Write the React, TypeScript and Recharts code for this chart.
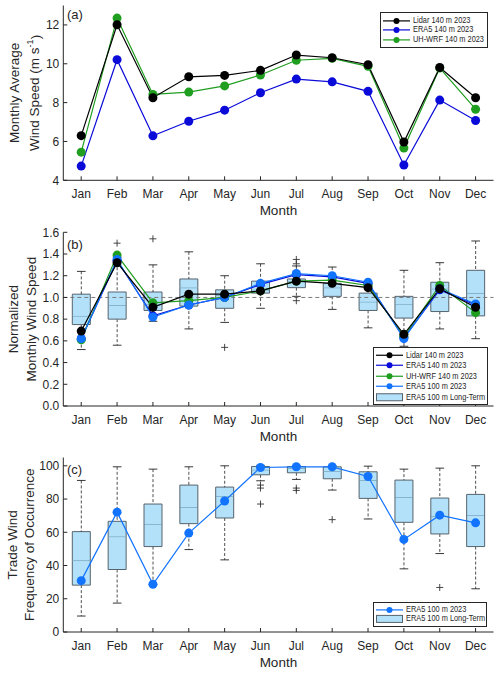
import React from "react"
import { ComposedChart, Line, Bar, XAxis, YAxis, ReferenceLine } from "recharts"

const months = ["Jan", "Feb", "Mar", "Apr", "May", "Jun", "Jul", "Aug", "Sep", "Oct", "Nov", "Dec"]

// (a) monthly average wind speed, m/s
const lidarA = [6.3, 12.01, 8.25, 9.33, 9.4, 9.66, 10.45, 10.31, 9.95, 5.97, 9.81, 8.25]
const era5A = [4.73, 10.21, 6.29, 7.04, 7.61, 8.51, 9.21, 9.07, 8.58, 4.79, 8.13, 7.08]
const wrfA = [5.45, 12.35, 8.42, 8.54, 8.86, 9.42, 10.18, 10.28, 9.87, 5.66, 9.78, 7.66]

// (b) normalized monthly wind speed
const lidarB = [0.69, 1.32, 0.91, 1.03, 1.03, 1.06, 1.15, 1.13, 1.09, 0.66, 1.08, 0.91]
const era5B140 = [0.62, 1.34, 0.83, 0.93, 1.0, 1.12, 1.21, 1.19, 1.13, 0.63, 1.07, 0.93]
const wrfB = [0.61, 1.39, 0.95, 0.97, 1.0, 1.06, 1.15, 1.16, 1.11, 0.64, 1.11, 0.86]
const era5B100 = [0.62, 1.35, 0.82, 0.93, 1.0, 1.13, 1.22, 1.2, 1.14, 0.62, 1.08, 0.94]

const bLow = [0.52, 0.56, 0.78, 0.71, 0.77, 0.9, 1.01, 0.89, 0.72, 0.55, 0.71, 0.62]
const bQ1 = [0.75, 0.8, 0.88, 0.92, 0.9, 1.04, 1.09, 1.01, 0.88, 0.81, 0.87, 0.83]
const bMed = [0.83, 0.93, 0.94, 1.09, 1.02, 1.07, 1.15, 1.09, 0.96, 0.94, 1.08, 1.04]
const bQ3 = [1.03, 1.05, 1.05, 1.17, 1.07, 1.15, 1.17, 1.13, 1.04, 1.01, 1.14, 1.25]
const bHigh = [1.24, 1.37, 1.3, 1.42, 1.2, 1.31, 1.29, 1.28, 1.12, 1.25, 1.32, 1.52]
const bOut = [[], [1.5], [1.54], [], [0.54], [], [1.31, 1.35, 0.97], [], [], [], [], []]

// (c) trade wind frequency of occurrence, %
const era5C = [30.9, 72.1, 28.7, 59.5, 78.8, 99.0, 99.4, 99.4, 93.6, 55.7, 70.3, 65.7]
const cLow = [9.6, 17.4, 28.5, 49.6, 43.4, 91, 91.8, 85.4, 68, 38, 47.2, 26]
const cQ1 = [28.2, 37.6, 51.4, 65.2, 68.6, 94.6, 95.8, 92.2, 80.4, 66, 59, 51.4]
const cMed = [43, 57.4, 65, 75.2, 81.8, 97.6, 98.6, 96.6, 91.4, 81.2, 69.8, 70.4]
const cQ3 = [60.4, 66.6, 77, 88.4, 87.2, 99.6, 99.6, 99.4, 96.4, 91.4, 80.6, 82.8]
const cHigh = [91.2, 99.4, 98, 99.4, 100, 100, 100, 100, 99.8, 98, 98.6, 100]
const cOut = [[], [], [], [], [], [88.4, 86.6, 77], [86.6, 85.2], [67.6], [], [], [26.8], []]

const ticksA = [4, 6, 8, 10, 12]
const ticksB = [0, 0.2, 0.4, 0.6, 0.8, 1.0, 1.2, 1.4, 1.6]
const ticksC = [0, 20, 40, 60, 80, 100]

const FONT = "'Liberation Sans', Arial, Helvetica, sans-serif"
const AXIS = "#262626"
const C_LIDAR = "#000000"
const C_ERA140 = "#0b0bd9"
const C_WRF = "#1f9e1f"
const C_ERA100 = "#1273ff"
const BOX_FILL = "#b4e1fa"
const BOX_EDGE = "#56636c"
const MED = "#5d8aa5"

function boxRows(low: number[], q1: number[], med: number[], q3: number[], high: number[], out: number[][]) {
  return months.map((month, i) => ({
    month,
    base: low[i],
    lowW: q1[i] - low[i],
    boxLo: med[i] - q1[i],
    boxHi: q3[i] - med[i],
    highW: high[i] - q3[i],
    o1: out[i][0] ?? null,
    o2: out[i][1] ?? null,
    o3: out[i][2] ?? null,
  }))
}

const dataA = months.map((month, i) => ({ month, lidar: lidarA[i], era140: era5A[i], wrf: wrfA[i] }))
const dataB = boxRows(bLow, bQ1, bMed, bQ3, bHigh, bOut).map((r, i) => ({
  ...r,
  lidar: lidarB[i],
  era140: era5B140[i],
  wrf: wrfB[i],
  era100: era5B100[i],
}))
const dataC = boxRows(cLow, cQ1, cMed, cQ3, cHigh, cOut).map((r, i) => ({ ...r, era100: era5C[i] }))

const LowWhisker = (p: any) => {
  const cx = p.x + p.width / 2
  const cap = p.width * 0.24
  return (
    <g>
      <line x1={cx} x2={cx} y1={p.y} y2={p.y + p.height} stroke="#222" strokeWidth={0.8} strokeDasharray="3 2" />
      <line x1={cx - cap} x2={cx + cap} y1={p.y + p.height} y2={p.y + p.height} stroke="#222" strokeWidth={0.9} />
    </g>
  )
}

const HighWhisker = (p: any) => {
  const cx = p.x + p.width / 2
  const cap = p.width * 0.24
  return (
    <g>
      <line x1={cx} x2={cx} y1={p.y} y2={p.y + p.height} stroke="#222" strokeWidth={0.8} strokeDasharray="3 2" />
      <line x1={cx - cap} x2={cx + cap} y1={p.y} y2={p.y} stroke="#222" strokeWidth={0.9} />
    </g>
  )
}

const BoxLower = (p: any) => {
  const { x, y, width, height } = p
  return (
    <g>
      <rect x={x} y={y} width={width} height={height} fill={BOX_FILL} />
      <path d={`M${x},${y} V${y + height} H${x + width} V${y}`} fill="none" stroke={BOX_EDGE} strokeWidth={1} />
      <line x1={x} x2={x + width} y1={y} y2={y} stroke={MED} strokeWidth={1} />
    </g>
  )
}

const BoxUpper = (p: any) => {
  const { x, y, width, height } = p
  return (
    <g>
      <rect x={x} y={y} width={width} height={height} fill={BOX_FILL} />
      <path d={`M${x},${y + height} V${y} H${x + width} V${y + height}`} fill="none" stroke={BOX_EDGE} strokeWidth={1} />
    </g>
  )
}

const Plus = (p: any) => {
  const { cx, cy } = p
  if (typeof cy !== "number" || isNaN(cy)) return <g key={p.key} />
  return (
    <path key={p.key} d={`M${cx - 3.5},${cy} H${cx + 3.5} M${cx},${cy - 3.5} V${cy + 3.5}`} stroke="#333" strokeWidth={0.9} fill="none" />
  )
}

const monthLabel = (props: any) => {
  const vb = props.viewBox
  return (
    <text x={vb.x + vb.width / 2} y={vb.y + 35} textAnchor="middle" fill={AXIS} fontSize={13.5} fontFamily={FONT}>
      Month
    </text>
  )
}

function yLabel(lines: React.ReactNode[], xs: number[]) {
  return (props: any) => {
    const vb = props.viewBox
    const cy = vb.y + vb.height / 2
    return (
      <g>
        {lines.map((l, i) => (
          <text
            key={i}
            x={xs[i]}
            y={cy}
            transform={`rotate(-90 ${xs[i]} ${cy})`}
            textAnchor="middle"
            dominantBaseline="central"
            fill={AXIS}
            fontSize={13.5}
            fontFamily={FONT}
          >
            {l}
          </text>
        ))}
      </g>
    )
  }
}

const tickStyle = { fill: AXIS, fontSize: 12, fontFamily: FONT }

function axes(domain: number[], ticks: number[], fmt: (v: number) => string, xHeight: number, label: any, pad?: number) {
  const padding = pad ? { left: pad, right: pad } : undefined
  return [
    <XAxis key="xb" dataKey="month" interval={0} padding={padding} tickSize={-4} tickMargin={13} tick={tickStyle} stroke={AXIS} height={xHeight} label={monthLabel} />,
    <XAxis key="xt" xAxisId="top" orientation="top" dataKey="month" interval={0} padding={padding} tickSize={-4} tickFormatter={() => ""} height={0} stroke={AXIS} />,
    <YAxis key="yl" domain={domain} ticks={ticks} tickFormatter={fmt} width={63.3} tickSize={-4} tickMargin={8} tick={tickStyle} stroke={AXIS} interval={0} label={label} />,
    <YAxis key="yr" yAxisId="r" orientation="right" domain={domain} ticks={ticks} tickFormatter={() => ""} width={0} tickSize={-4} stroke={AXIS} interval={0} />,
  ]
}

function boxBars() {
  return [
    <Bar key="b0" dataKey="base" stackId="box" fill="none" barSize={18} isAnimationActive={false} />,
    <Bar key="b1" dataKey="lowW" stackId="box" shape={LowWhisker} barSize={18} isAnimationActive={false} />,
    <Bar key="b2" dataKey="boxLo" stackId="box" shape={BoxLower} barSize={18} isAnimationActive={false} />,
    <Bar key="b3" dataKey="boxHi" stackId="box" shape={BoxUpper} barSize={18} isAnimationActive={false} />,
    <Bar key="b4" dataKey="highW" stackId="box" shape={HighWhisker} barSize={18} isAnimationActive={false} />,
    <Line key="o1" dataKey="o1" stroke="none" dot={Plus} activeDot={false} isAnimationActive={false} />,
    <Line key="o2" dataKey="o2" stroke="none" dot={Plus} activeDot={false} isAnimationActive={false} />,
    <Line key="o3" dataKey="o3" stroke="none" dot={Plus} activeDot={false} isAnimationActive={false} />,
  ]
}

function series(key: string, color: string) {
  return (
    <Line
      key={key}
      dataKey={key}
      stroke={color}
      strokeWidth={1.2}
      dot={{ r: 4.5, fill: color, stroke: color, strokeWidth: 0 }}
      activeDot={false}
      isAnimationActive={false}
    />
  )
}

type Item = { label: string; color?: string; box?: boolean }

function LegendBox({ left, top, width, rowH, pad, items }: { left: number; top: number; width: number; rowH: number; pad: number; items: Item[] }) {
  return (
    <div
      style={{
        position: "absolute",
        left,
        top,
        width,
        boxSizing: "border-box",
        border: "1px solid #262626",
        background: "#fff",
        padding: `${pad}px 0 ${pad}px 0`,
      }}
    >
      {items.map((it) => (
        <div key={it.label} style={{ display: "flex", alignItems: "center", height: rowH, overflow: "visible" }}>
          <svg width={28} height={rowH} style={{ marginLeft: 2, flex: "none" }}>
            {it.box ? (
              <rect x={0.5} y={rowH / 2 - 3.5} width={26} height={7} fill={BOX_FILL} stroke={BOX_EDGE} strokeWidth={1} />
            ) : (
              <g>
                <line x1={0} x2={27} y1={rowH / 2} y2={rowH / 2} stroke={it.color} strokeWidth={1.2} />
                <circle cx={13.5} cy={rowH / 2} r={3} fill={it.color} />
              </g>
            )}
          </svg>
          <span
            style={{
              display: "inline-block",
              fontFamily: FONT,
              fontSize: 9,
              lineHeight: `${rowH}px`,
              color: "#262626",
              marginLeft: 2,
              whiteSpace: "nowrap",
              transform: "scaleX(0.82)",
              transformOrigin: "left center",
            }}
          >
            {it.label}
          </span>
        </div>
      ))}
    </div>
  )
}

const panelTag = (text: string, top: number) => (
  <div style={{ position: "absolute", left: 67, top, fontFamily: FONT, fontSize: 13, color: "#262626" }}>{text}</div>
)

export default function App() {
  return (
    <div style={{ position: "absolute", left: 0, top: 0, width: 500, height: 673, background: "#fff", overflow: "hidden" }}>
      <div style={{ position: "absolute", left: 0, top: 0 }}>
        <ComposedChart width={500} height={220} data={dataA} margin={{ top: 5.5, right: 6.5, left: 0, bottom: 0 }}>
          {axes(
            [4, 13],
            ticksA,
            (v) => String(v),
            220 - 5.5 - 174.8,
            yLabel(
              [
                "Monthly Average",
                <>
                  Wind Speed (m s
                  <tspan dy={-5} fontSize={9}>
                    -1
                  </tspan>
                  <tspan dy={5}>)</tspan>
                </>,
              ],
              [15, 35]
            ),
            17.9
          )}
          {series("era140", C_ERA140)}
          {series("wrf", C_WRF)}
          {series("lidar", C_LIDAR)}
        </ComposedChart>
      </div>
      {panelTag("(a)", 7)}
      <LegendBox
        left={380}
        top={12}
        width={108}
        rowH={9.8}
        pad={2.5}
        items={[
          { label: "Lidar 140 m 2023", color: C_LIDAR },
          { label: "ERA5 140 m 2023", color: C_ERA140 },
          { label: "UH-WRF 140 m 2023", color: C_WRF },
        ]}
      />

      <div style={{ position: "absolute", left: 0, top: 220 }}>
        <ComposedChart width={500} height={230} data={dataB} margin={{ top: 12.3, right: 6.5, left: 0, bottom: 0 }}>
          {axes([0, 1.6], ticksB, (v) => v.toFixed(1), 230 - 12.3 - 173.7, yLabel(["Normalized", "Monthly Wind Speed"], [13.5, 32]))}
          {boxBars()}
          <ReferenceLine y={1} stroke="#7a7a7a" strokeDasharray="4 3" strokeWidth={1} />
          {series("era140", C_ERA140)}
          {series("wrf", C_WRF)}
          {series("era100", C_ERA100)}
          {series("lidar", C_LIDAR)}
        </ComposedChart>
      </div>
      {panelTag("(b)", 237)}
      <LegendBox
        left={373}
        top={347}
        width={115}
        rowH={10.5}
        pad={1.5}
        items={[
          { label: "Lidar 140 m 2023", color: C_LIDAR },
          { label: "ERA5 140 m 2023", color: C_ERA140 },
          { label: "UH-WRF 140 m 2023", color: C_WRF },
          { label: "ERA5 100 m 2023", color: C_ERA100 },
          { label: "ERA5 100 m Long-Term", box: true },
        ]}
      />

      <div style={{ position: "absolute", left: 0, top: 450 }}>
        <ComposedChart width={500} height={223} data={dataC} margin={{ top: 7.5, right: 6.5, left: 0, bottom: 0 }}>
          {axes([0, 105], ticksC, (v) => String(v), 223 - 7.5 - 174.5, yLabel(["Trade Wind", "Frequency of Occurrence"], [12, 29]))}
          {boxBars()}
          {series("era100", C_ERA100)}
        </ComposedChart>
      </div>
      {panelTag("(c)", 462)}
      <LegendBox
        left={373}
        top={602}
        width={114}
        rowH={9.8}
        pad={1.5}
        items={[
          { label: "ERA5 100 m 2023", color: C_ERA100 },
          { label: "ERA5 100 m Long-Term", box: true },
        ]}
      />
    </div>
  )
}
